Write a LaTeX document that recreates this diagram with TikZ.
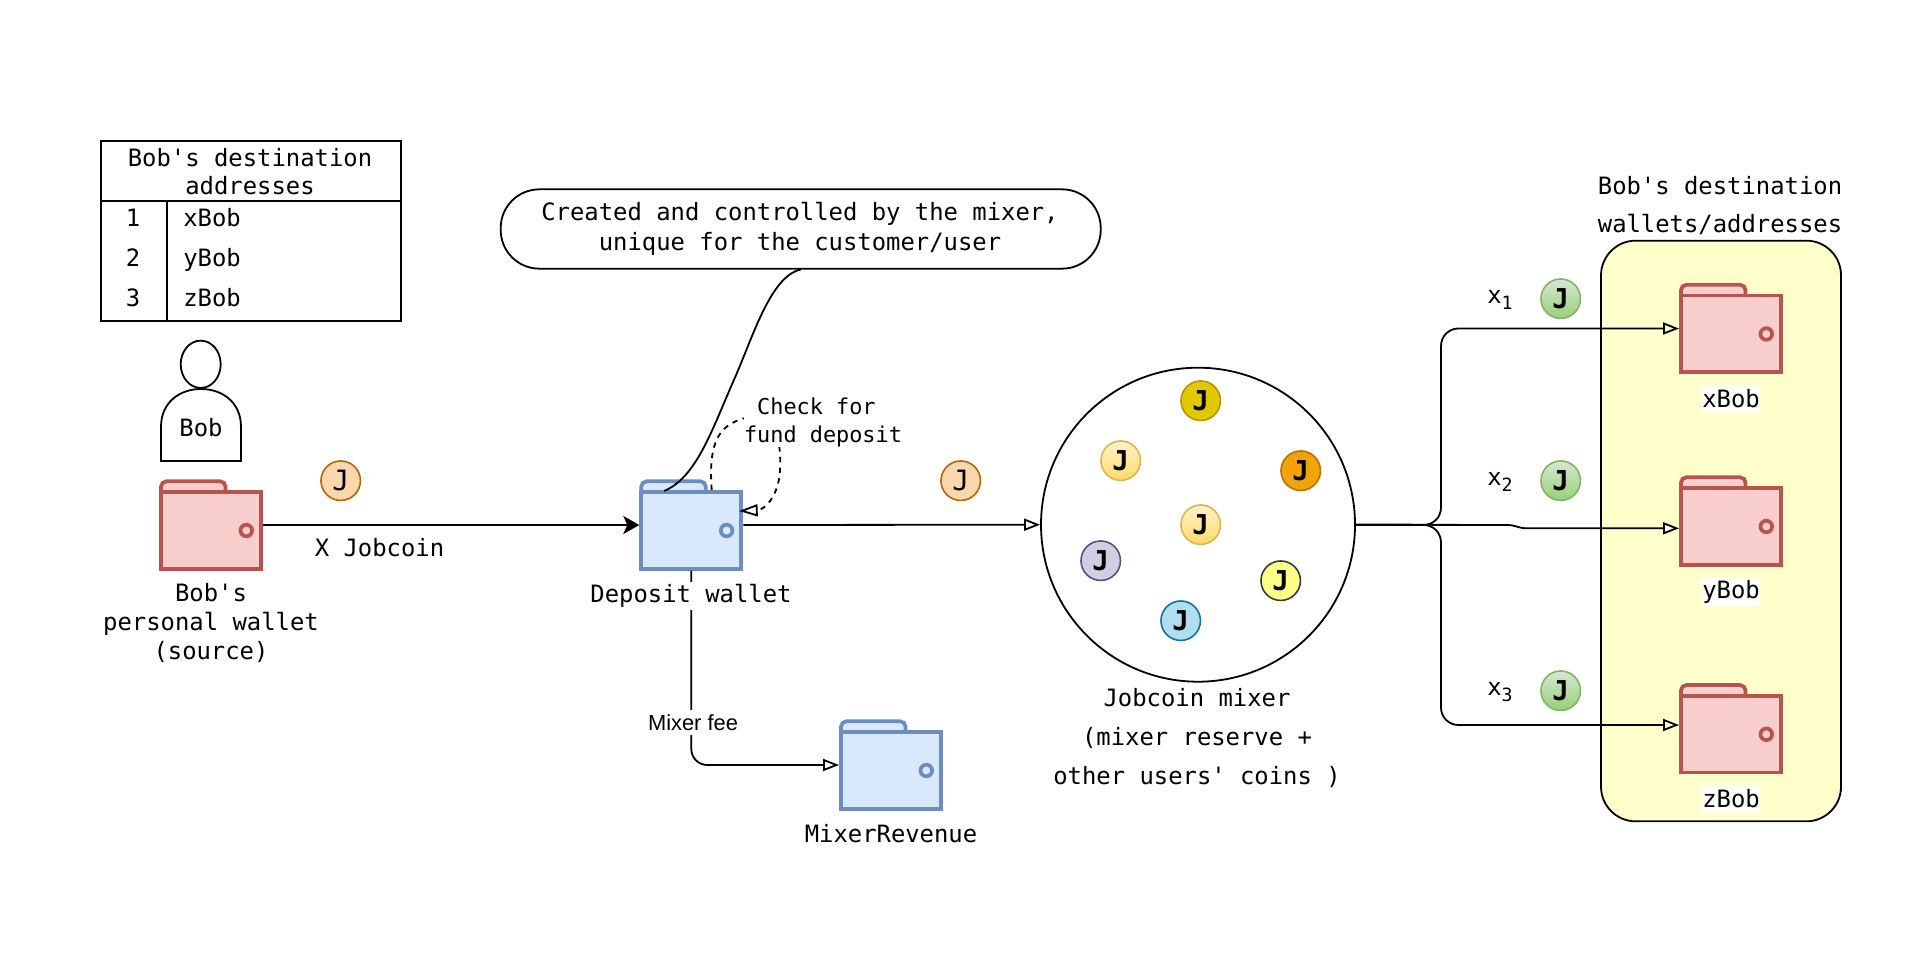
\documentclass[tikz,border=0pt]{standalone}
\usepackage{fontspec}
\setmainfont{DejaVu Sans Mono}
\newfontfamily\feefont{Liberation Sans}
\usetikzlibrary{arrows.meta,shapes.geometric}

\definecolor{walletred}{HTML}{F8CECC}
\definecolor{linered}{HTML}{B85450}
\definecolor{walletblue}{HTML}{DAE8FC}
\definecolor{lineblue}{HTML}{6C8EBF}
\definecolor{peach}{HTML}{FAD7AC}
\definecolor{peachline}{HTML}{B46504}
\definecolor{greentop}{HTML}{D5E8D4}
\definecolor{greenbot}{HTML}{97D077}
\definecolor{greenline}{HTML}{82B366}
\definecolor{paletop}{HTML}{FFF2CC}
\definecolor{palebot}{HTML}{FFD966}
\definecolor{paleline}{HTML}{D6B656}
\definecolor{gold}{HTML}{E3C800}
\definecolor{goldline}{HTML}{B09500}
\definecolor{amber}{HTML}{F0A30A}
\definecolor{amberline}{HTML}{BD7000}
\definecolor{lilac}{HTML}{D0CEE2}
\definecolor{lilacline}{HTML}{56517E}
\definecolor{lemon}{HTML}{FFFF88}
\definecolor{lemonline}{HTML}{36393D}
\definecolor{sky}{HTML}{B1DDF0}
\definecolor{skyline}{HTML}{10739E}
\definecolor{destfill}{HTML}{FFFFCC}

\newcommand{\wallet}[4]{
  \node[walletbox] (#1) at (#2) {};
  \begin{scope}[shift={(#1.center)}, line width=2.8pt, draw=#4, fill=#3]
    \filldraw[rounded corners=4pt] (-50,-33) -- (-50,-43.7) -- (14.5,-43.7) -- (14.5,-33);
    \filldraw (-50,-33) rectangle (50,43.7);
    \filldraw (35.3,5.5) circle (5.8);
  \end{scope}
}

\begin{document}
\begin{tikzpicture}[x=0.75pt, y=-0.75pt]
  \tikzstyle{lbl}=[font=\fontsize{17.9}{21}\selectfont, align=center, inner sep=0pt]
  \tikzstyle{whitelbl}=[lbl, fill=white, minimum height=20.5pt]
  \tikzstyle{walletbox}=[minimum width=78pt, minimum height=68.25pt, inner sep=0pt, outer sep=0pt]
  \tikzstyle{coin}=[circle, draw, minimum size=29.6pt, inner sep=0pt, line width=1.2pt, font=\fontsize{20.5}{21}\selectfont\bfseries]
  \tikzstyle{plaincoin}=[coin, font=\fontsize{21}{21}\selectfont, fill=peach, draw=peachline]
  \tikzstyle{paycoin}=[coin, top color=greentop, bottom color=greenbot, draw=greenline]
  \tikzstyle{palecoin}=[coin, top color=paletop, bottom color=palebot, draw=paleline]
  \tikzstyle{flow}=[line width=1.35pt, -{Triangle[open, length=12pt, width=9pt]}]

  \useasboundingbox (0,0) rectangle (1922,962);

  \node[draw, line width=1.6pt, minimum width=225pt, minimum height=135pt, inner sep=0pt] (table) at (251,231) {};
  \coordinate (headl) at (101,200.7);
  \coordinate (headr) at (401,200.7);
  \coordinate (colt) at (166.7,200.7);
  \coordinate (colb) at (166.7,321);
  \draw[line width=1.6pt] (headl) -- (headr);
  \draw[line width=1.6pt] (colt) -- (colb);
  \node[lbl] (tablehead) at (250,172) {Bob\textquotesingle s destination\\addresses};
  \node[lbl] (n1) at (133,218) {1};
  \node[lbl] (n2) at (133,258) {2};
  \node[lbl] (n3) at (133,298) {3};
  \node[lbl, anchor=west] (a1) at (183,218) {xBob};
  \node[lbl, anchor=west] (a2) at (183,259.5) {yBob};
  \node[lbl, anchor=west] (a3) at (183,298) {zBob};

  \node[ellipse, draw, line width=1.35pt, minimum width=30pt, minimum height=35.5pt, inner sep=0pt] (head) at (200.7,364.3) {};
  \draw[line width=1.35pt] (161,461) -- (161,427) .. controls (161,402) and (180,389) .. (201,389) .. controls (222,389) and (241,402) .. (241,427) -- (241,461) -- cycle;
  \node[lbl] (bob) at (201,428) {Bob};

  \wallet{srcwallet}{211,525}{walletred}{linered}
  \wallet{depwallet}{691.3,525}{walletblue}{lineblue}
  \wallet{revwallet}{891,765}{walletblue}{lineblue}

  \node[plaincoin] (c1) at (340.7,480.7) {J};
  \node[plaincoin] (c2) at (960.7,480.7) {J};

  \node[draw, line width=1.35pt, rounded corners=29pt, minimum width=450pt, minimum height=59.5pt, inner sep=0pt] (note) at (800.7,229) {};
  \node[lbl] (notetext) at (800,228.5) {Created and controlled by the mixer,\\[1.5pt]unique for the customer/user};

  \coordinate (noteend) at (664,491);
  \draw[line width=1.35pt] (note.south) .. controls (770,276) and (752,340) .. (733,382) .. controls (712,430) and (696,478) .. (noteend);

  \coordinate (chkout) at (711.7,490);
  \coordinate (chkin) at (739,511);
  \draw[line width=1.35pt, dash pattern=on 4pt off 4pt, -{Triangle[open, length=14pt, width=9pt]}] (chkout) .. controls (708,440) and (720,425) .. (745,418) .. controls (770,415) and (782,430) .. (780,470) .. controls (779,495) and (765,510) .. (chkin);
  \node[lbl, fill=white, font=\fontsize{16.4}{20.7}\selectfont] (chk) at (823,422.5) {Check for\phantom{x}\\fund deposit};

  \node[draw, circle, line width=1.35pt, minimum size=235.5pt, inner sep=0pt] (mixer) at (1198,524.7) {};
  \node[coin, fill=gold, draw=goldline] (m1) at (1200.7,400.7) {J};
  \node[palecoin] (m2) at (1120.7,460.7) {J};
  \node[coin, fill=amber, draw=amberline] (m3) at (1300.7,470.7) {J};
  \node[palecoin] (m4) at (1200.7,524.7) {J};
  \node[coin, fill=lilac, draw=lilacline] (m5) at (1100.7,560.7) {J};
  \node[coin, fill=lemon, draw=lemonline] (m6) at (1280.7,580.7) {J};
  \node[coin, fill=sky, draw=skyline] (m7) at (1180.7,620.7) {J};

  \node[draw, line width=1.35pt, fill=destfill, rounded corners=26pt, minimum width=180pt, minimum height=435.5pt, inner sep=0pt] (destbox) at (1721,531) {};
  \wallet{xwallet}{1731,328.5}{walletred}{linered}
  \wallet{ywallet}{1731,521}{walletred}{linered}
  \wallet{zwallet}{1731,728.8}{walletred}{linered}

  \coordinate (split) at (1441,525);
  \coordinate (stepa) at (1512,525);
  \coordinate (stepb) at (1522,528.3);
  \coordinate (yin) at (1679,528.3);
  \coordinate (zin) at (1679,725);

  \draw[line width=1.35pt, -{Stealth[length=12pt, width=13.5pt, inset=3pt]}] (srcwallet.east) -- (depwallet.west);
  \draw[flow] (depwallet.east) -- (mixer.west);
  \draw[flow, rounded corners=12pt] (depwallet.south) |- (revwallet.west);
  \draw[flow, rounded corners=13pt] (mixer.east) -- (split) |- (xwallet.west);
  \draw[flow, rounded corners=13pt] (mixer.east) -- (split) |- (zin);
  \draw[flow, rounded corners=3pt] (mixer.east) -- (stepa) -- (stepb) -- (yin);

  \node[lbl] (xjob) at (379.5,548) {X Jobcoin};
  \node[lbl] (srclbl) at (211,623.5) {Bob\textquotesingle s\\[0.75pt]personal wallet\\[0.75pt](source)};
  \node[whitelbl] (deplbl) at (691,596) {Deposit wallet};
  \node[fill=white, inner sep=0pt, minimum height=18.5pt, font=\feefont\fontsize{16.4}{20}\selectfont] (fee) at (693,722.5) {Mixer fee};
  \node[lbl] (revlbl) at (891,834) {MixerRevenue};
  \node[lbl] (mixlbl) at (1197,737.5) {Jobcoin mixer\\[8.25pt](mixer reserve +\\[8.25pt]other users\textquotesingle{} coins )};
  \node[lbl] (destlbl) at (1720,205.5) {Bob\textquotesingle s destination\\[7.75pt]wallets/addresses};

  \node[whitelbl] (xlbl) at (1731,398.5) {xBob};
  \node[whitelbl] (ylbl) at (1731,592) {yBob};
  \node[whitelbl] (zlbl) at (1731,798.5) {zBob};

  \node[lbl] (x1) at (1500,300) {x\raisebox{-4.5pt}{\fontsize{13.7}{16}\selectfont 1}};
  \node[lbl] (x2) at (1500,482) {x\raisebox{-4.5pt}{\fontsize{13.7}{16}\selectfont 2}};
  \node[lbl] (x3) at (1500,692) {x\raisebox{-4.5pt}{\fontsize{13.7}{16}\selectfont 3}};
  \node[paycoin] (g1) at (1560.7,298.7) {J};
  \node[paycoin] (g2) at (1560.7,480.7) {J};
  \node[paycoin] (g3) at (1560.7,690.7) {J};
\end{tikzpicture}
\end{document}
